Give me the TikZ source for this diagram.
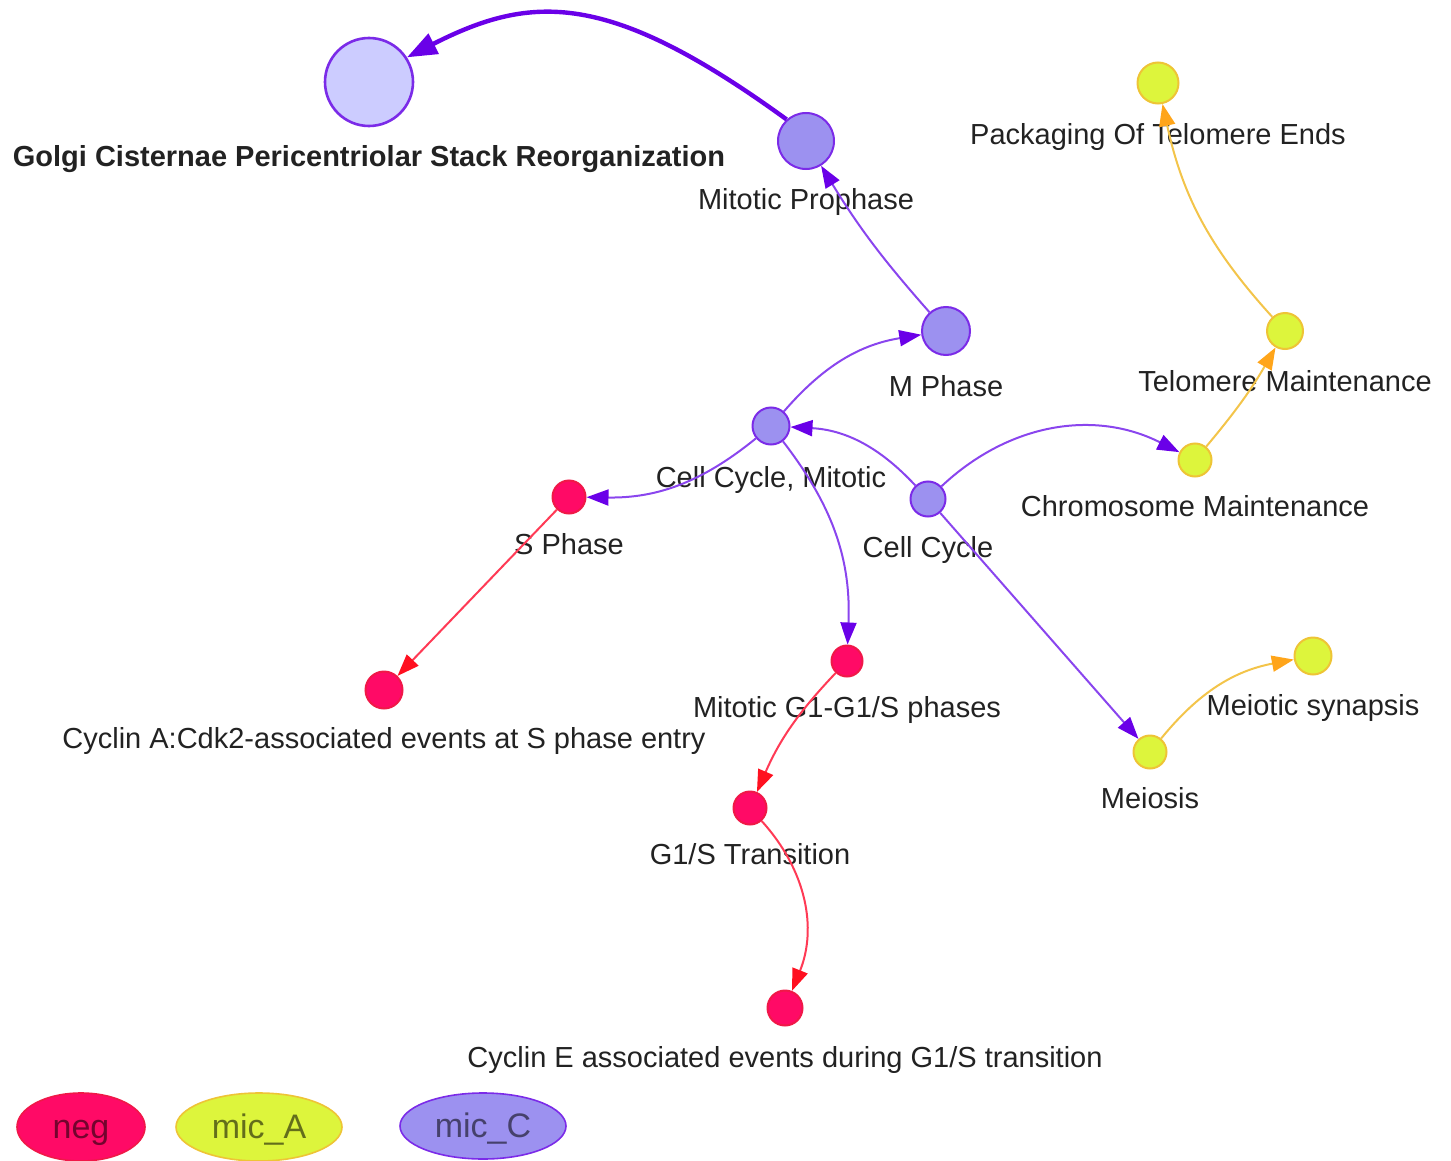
\documentclass[tikz,border=0pt]{standalone}
\usepackage{fontspec}
\setmainfont{Liberation Sans}
\usetikzlibrary{arrows.meta,shapes.geometric}

\definecolor{negfill}{HTML}{FF0A66}
\definecolor{negline}{HTML}{F01848}
\definecolor{afill}{HTML}{DDF53C}
\definecolor{aline}{HTML}{EEC436}
\definecolor{cfill}{HTML}{9C91F0}
\definecolor{cline}{HTML}{7B2BE8}
\definecolor{golgifill}{HTML}{CCCCFF}
\definecolor{vedgecol}{HTML}{8A45EE}
\definecolor{vtip}{HTML}{6A00E8}
\definecolor{oedgecol}{HTML}{F3C44A}
\definecolor{otip}{HTML}{FFA51A}
\definecolor{redgecol}{HTML}{FF3A55}
\definecolor{rtip}{HTML}{FF1020}
\definecolor{txt}{HTML}{222222}

\tikzset{
  pnode/.style={circle, inner sep=0pt, line width=1pt},
  cnode/.style={pnode, fill=cfill, draw=cline},
  anode/.style={pnode, fill=afill, draw=aline},
  nnode/.style={pnode, fill=negfill, draw=negline},
  lbl/.style={anchor=base, inner sep=0pt, text=txt, font=\fontsize{14.5}{17}\selectfont},
  vedge/.style={draw=vedgecol, line width=1pt, -{Triangle[length=11pt,width=8pt,color=vtip]}},
  oedge/.style={draw=oedgecol, line width=1pt, -{Triangle[length=11pt,width=8pt,color=otip]}},
  redge/.style={draw=redgecol, line width=1pt, -{Triangle[length=11pt,width=8pt,color=rtip]}},
  keyshape/.style={ellipse, inner sep=0pt, line width=0.8pt,
    text height=11.5pt, text depth=0pt,
    font=\fontsize{17}{20}\selectfont, text=black, text opacity=0.55},
}

\begin{document}
\begin{tikzpicture}[x=0.5pt, y=-0.5pt]
\useasboundingbox (0,0) rectangle (1451,1161);

% ---- nodes ----
\node[pnode, fill=golgifill, draw=cline, line width=1.3pt, minimum size=44pt] (golgi) at (369,82) {};
\node[cnode, minimum size=28pt] (proph) at (806,141) {};
\node[cnode, minimum size=24pt] (mph) at (946,331) {};
\node[cnode, minimum size=18.5pt] (ccm) at (771,426) {};
\node[cnode, minimum size=17.5pt] (cc) at (928,499) {};
\node[nnode, minimum size=16.5pt] (sph) at (569,497) {};
\node[nnode, minimum size=18.5pt] (cyca) at (384,690) {};
\node[nnode, minimum size=15.5pt] (g1) at (847,661) {};
\node[nnode, minimum size=16.5pt] (g1s) at (750,808) {};
\node[nnode, minimum size=17.5pt] (cyce) at (785,1008) {};
\node[anode, minimum size=20.5pt] (pack) at (1158,83) {};
\node[anode, minimum size=18pt] (telo) at (1285,331) {};
\node[anode, minimum size=16.5pt] (chrom) at (1195,460) {};
\node[anode, minimum size=16.5pt] (meio) at (1150,752) {};
\node[anode, minimum size=18.5pt] (syn) at (1313,656) {};

% ---- labels ----
\node[lbl, font=\fontsize{14.5}{17}\selectfont\bfseries] (l-golgi) at (369,166) {Golgi Cisternae Pericentriolar Stack Reorganization};
\node[lbl] (l-proph) at (806,209) {Mitotic Prophase};
\node[lbl] (l-mph) at (946,396) {M Phase};
\node[lbl] (l-ccm) at (771,487) {Cell Cycle, Mitotic};
\node[lbl] (l-cc) at (928,557) {Cell Cycle};
\node[lbl] (l-sph) at (569,554) {S Phase};
\node[lbl] (l-cyca) at (384,748) {Cyclin A:Cdk2-associated events at S phase entry};
\node[lbl] (l-g1) at (847,717) {Mitotic G1-G1/S phases};
\node[lbl] (l-g1s) at (750,864) {G1/S Transition};
\node[lbl] (l-cyce) at (785,1067) {Cyclin E associated events during G1/S transition};
\node[lbl] (l-pack) at (1158,145) {Packaging Of Telomere Ends};
\node[lbl] (l-telo) at (1285,391) {Telomere Maintenance};
\node[lbl] (l-chrom) at (1195,516) {Chromosome Maintenance};
\node[lbl] (l-meio) at (1150,808) {Meiosis};
\node[lbl] (l-syn) at (1313,715) {Meiotic synapsis};

% ---- connectors ----
\draw[draw=vtip, line width=2.2pt, -{Triangle[length=15pt,width=11pt,color=vtip]}]
  (proph.132) .. controls +(144:110pt) and +(27:70pt) .. (golgi.33);
\draw[vedge] (mph) to[bend left=5] (proph);
\draw[vedge] (ccm) to[bend left=20] (mph);
\draw[vedge] (cc) to[bend right=22] (ccm);
\draw[vedge] (ccm) to[bend left=20] (sph);
\draw[vedge] (ccm) to[bend left=20] (g1);
\draw[vedge] (cc) to[bend left=35] (chrom);
\draw[vedge] (cc) -- (meio);
\draw[oedge] (chrom) to[bend right=5] (telo);
\draw[oedge] (telo) to[bend left=15] (pack);
\draw[oedge] (meio) to[bend left=20] (syn);
\draw[redge] (sph) -- (cyca);
\draw[redge] (g1) to[bend right=10] (g1s);
\draw[redge] (g1s) to[bend left=32] (cyce);

% ---- key ----
\node[keyshape, fill=negfill, draw=negline, minimum width=64pt, minimum height=34pt] (k-neg) at (81,1127) {neg};
\node[keyshape, fill=afill, draw=aline, minimum width=83pt, minimum height=34pt] (k-a) at (259,1127) {mic\_A};
\node[keyshape, fill=cfill, draw=cline, minimum width=83pt, minimum height=33pt] (k-c) at (483,1126) {mic\_C};
\end{tikzpicture}
\end{document}
